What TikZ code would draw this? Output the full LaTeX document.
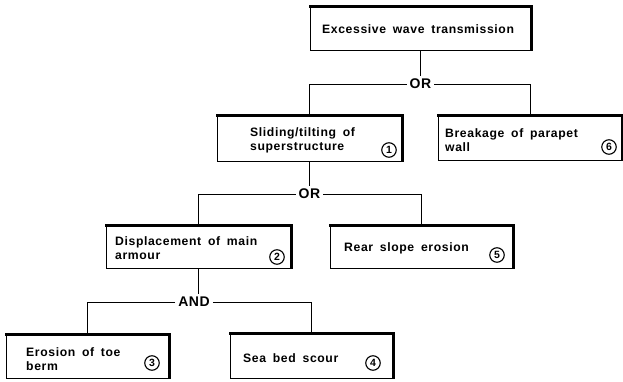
\documentclass[tikz,border=0pt]{standalone}
\usepackage{fontspec}
\newfontfamily\lbl{Liberation Sans}[LetterSpace=5, WordSpace=1.7]
\newfontfamily\gatefont{Liberation Sans}[LetterSpace=4]
\begin{document}
\begin{tikzpicture}[x=1pt, y=-1pt,
  fbox/.style={draw, line width=0.9pt, rectangle, inner sep=0pt},
  edge/.style={line width=2.6pt, line join=miter},
  txt/.style={anchor=west, inner sep=0pt, align=left,
    font=\lbl\bfseries\fontsize{12.2}{14}\selectfont},
  gate/.style={inner sep=3pt, font=\gatefont\bfseries\fontsize{14}{14}\selectfont},
  num/.style={draw, circle, line width=1.1pt, minimum size=14.5pt, inner sep=0pt,
    font=\lbl\bfseries\fontsize{10.5}{10.5}\selectfont},
  link/.style={line width=0.8pt}]
\useasboundingbox (0,0) rectangle (623,382);

% event boxes
\node[fbox, minimum width=221pt, minimum height=43pt] (top) at (420.5,28.5) {};
\node[fbox, minimum width=185pt, minimum height=45pt] (n1) at (309.5,138.5) {};
\node[fbox, minimum width=184pt, minimum height=44pt] (n6) at (530,138) {};
\node[fbox, minimum width=185pt, minimum height=42pt] (n2) at (198.5,247) {};
\node[fbox, minimum width=183pt, minimum height=42pt] (n5) at (421.5,247) {};
\node[fbox, minimum width=163pt, minimum height=43pt] (n3) at (87.5,356.5) {};
\node[fbox, minimum width=163pt, minimum height=44pt] (n4) at (311.5,356) {};

% heavy top and right edges of every box
\foreach \b in {top,n1,n6,n2,n5,n3,n4}
  \draw[edge] ([xshift=-0.45pt]\b.north west) -- (\b.north east) -- ([yshift=-0.45pt]\b.south east);

% box texts
\node[txt] (t0) at (322,29) {Excessive wave transmission};
\node[txt] (t1) at (250,140) {Sliding/tilting of\\superstructure};
\node[txt] (t6) at (445,140) {Breakage of parapet\\wall};
\node[txt] (t2) at (115,248.5) {Displacement of main\\armour};
\node[txt] (t5) at (344,248) {Rear slope erosion};
\node[txt] (t3) at (26,359.5) {Erosion of toe\\berm};
\node[txt] (t4) at (243,358) {Sea bed scour};

% circled event numbers
\node[num] (c1) at (389,150) {1};
\node[num] (c6) at (609,147) {6};
\node[num] (c2) at (277,257) {2};
\node[num] (c5) at (497,255) {5};
\node[num] (c3) at (152,363) {3};
\node[num] (c4) at (373,363) {4};

% logic gates
\node[gate] (g1) at (420.5,84) {OR};
\node[gate] (g2) at (309.5,194) {OR};
\node[gate] (g3) at (194,302) {AND};

% connectors
\draw[link] (top.south) -- (top.south |- g1.north);
\draw[link] (g1.west) -| (n1.north);
\draw[link] (g1.east) -| (n6.north);
\draw[link] (n1.south) -- (n1.south |- g2.north);
\draw[link] (g2.west) -| (n2.north);
\draw[link] (g2.east) -| (n5.north);
\draw[link] (n2.south) -- (n2.south |- g3.north);
\draw[link] (g3.west) -| (n3.north);
\draw[link] (g3.east) -| (n4.north);
\end{tikzpicture}
\end{document}
